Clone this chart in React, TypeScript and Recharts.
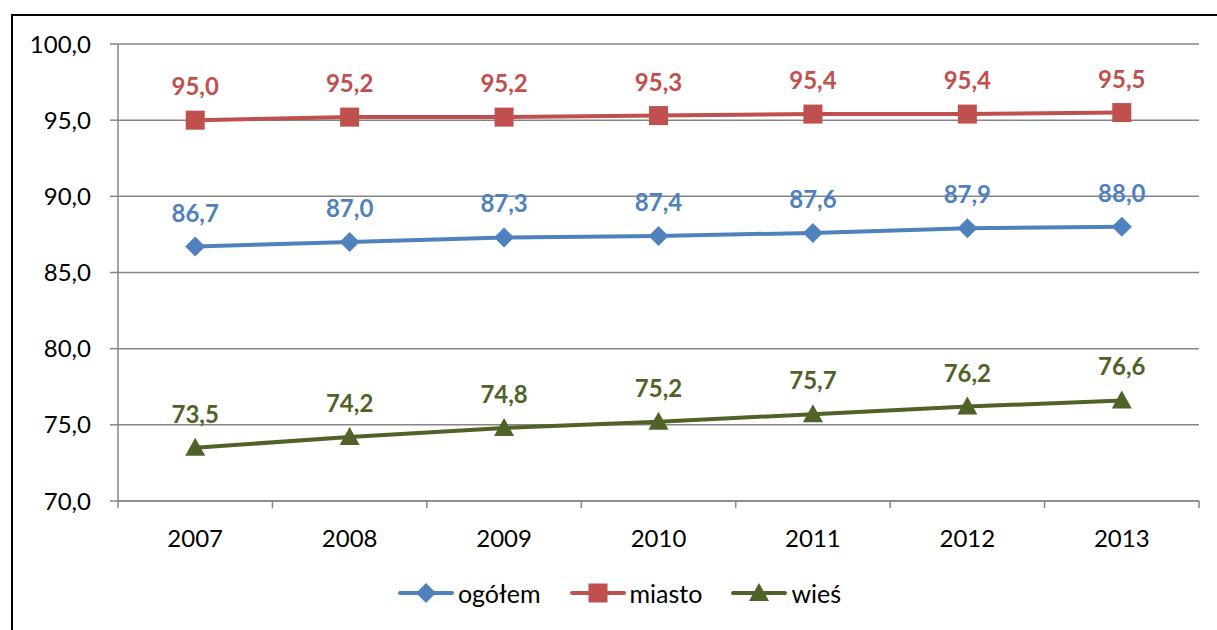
import React from 'react';
import { LineChart, Line, XAxis, YAxis, CartesianGrid, Legend, LabelList } from 'recharts';

const years = ['2007', '2008', '2009', '2010', '2011', '2012', '2013'];
const ogolem = [86.7, 87.0, 87.3, 87.4, 87.6, 87.9, 88.0];
const miasto = [95.0, 95.2, 95.2, 95.3, 95.4, 95.4, 95.5];
const wies = [73.5, 74.2, 74.8, 75.2, 75.7, 76.2, 76.6];
const yTicks = [70, 75, 80, 85, 90, 95, 100];

const FONT = 'Lato, "Open Sans", sans-serif';
const BLUE = '#4F81BD';
const RED = '#C0504D';
const GREEN = '#4F6228';
const AXIS = '#868686';
const HALF_BAND = 1081 / 7 / 2;

const data = years.map((y, i) => ({ year: y, ogolem: ogolem[i], miasto: miasto[i], wies: wies[i] }));

const fmt = (v: any) => Number(v).toFixed(1).replace('.', ',');

const Diamond = ({ cx, cy, fill }: any) => (
  <polygon points={`${cx},${cy - 10} ${cx + 10},${cy} ${cx},${cy + 10} ${cx - 10},${cy}`} fill={fill} />
);
const Square = ({ cx, cy, fill }: any) => <rect x={cx - 9.5} y={cy - 9.5} width={19} height={19} fill={fill} />;
const Triangle = ({ cx, cy, fill }: any) => (
  <polygon points={`${cx},${cy - 10} ${cx + 10},${cy + 8} ${cx - 10},${cy + 8}`} fill={fill} />
);

const XTick = ({ x, y, payload, index }: any) => (
  <g>
    <line x1={x - HALF_BAND} y1={y - 8} x2={x - HALF_BAND} y2={y - 1} stroke={AXIS} strokeWidth={1.5} />
    {index === years.length - 1 && (
      <line x1={x + HALF_BAND} y1={y - 8} x2={x + HALF_BAND} y2={y - 1} stroke={AXIS} strokeWidth={1.5} />
    )}
    <text x={x} y={y + 38} textAnchor="middle" fontSize={24} fontFamily={FONT} fill="#000">
      {payload.value}
    </text>
  </g>
);

const legendItems = [
  { name: 'ogółem', color: BLUE, shape: 'diamond' },
  { name: 'miasto', color: RED, shape: 'square' },
  { name: 'wieś', color: GREEN, shape: 'triangle' },
];

const LegendContent = () => (
  <div
    style={{
      display: 'flex',
      justifyContent: 'center',
      alignItems: 'center',
      height: 63,
      paddingBottom: 6,
      gap: 29,
      paddingLeft: 22,
    }}
  >
    {legendItems.map((it) => (
      <div key={it.name} style={{ display: 'flex', alignItems: 'center' }}>
        <svg width={56} height={22}>
          <line x1={2} y1={11} x2={54} y2={11} stroke={it.color} strokeWidth={4} strokeLinecap="round" />
          {it.shape === 'diamond' && <Diamond cx={28} cy={11} fill={it.color} />}
          {it.shape === 'square' && <Square cx={28} cy={11} fill={it.color} />}
          {it.shape === 'triangle' && <Triangle cx={28} cy={11} fill={it.color} />}
        </svg>
        <span style={{ fontFamily: FONT, fontSize: 25, color: '#000', marginLeft: 4 }}>{it.name}</span>
      </div>
    ))}
  </div>
);

const labelProps = { position: 'top' as const, offset: 25, formatter: fmt, fontSize: 24, fontWeight: 'bold', fontFamily: FONT };

export default function App() {
  return (
    <div style={{ position: 'absolute', left: 0, top: 0, width: 1217, height: 630, background: '#fff' }}>
      <div
        style={{
          position: 'absolute',
          left: 11,
          top: 14,
          width: 1217,
          height: 630,
          borderLeft: '2px solid #000',
          borderTop: '2px solid #000',
        }}
      />
      <div style={{ position: 'absolute', left: 0, top: 0 }}>
        <LineChart width={1217} height={630} data={data} margin={{ top: 44, right: 18, left: 18, bottom: 0 }}>
          <CartesianGrid vertical={false} stroke={AXIS} strokeWidth={1.5} />
          <XAxis
            dataKey="year"
            padding={{ left: HALF_BAND, right: HALF_BAND }}
            stroke={AXIS}
            strokeWidth={1.5}
            tickLine={false}
            tick={<XTick />}
            height={60}
            interval={0}
          />
          <YAxis
            domain={[70, 100]}
            ticks={yTicks}
            width={100}
            stroke={AXIS}
            strokeWidth={1.5}
            tickSize={8}
            tickMargin={19}
            tickFormatter={fmt}
            tick={{ fontSize: 24, fontFamily: FONT, fill: '#000' }}
          />
          <Legend verticalAlign="bottom" height={69} content={<LegendContent />} />
          <Line
            dataKey="ogolem"
            stroke={BLUE}
            strokeWidth={4}
            dot={<Diamond fill={BLUE} />}
            activeDot={false}
            isAnimationActive={false}
          >
            <LabelList dataKey="ogolem" fill={BLUE} {...labelProps} />
          </Line>
          <Line
            dataKey="miasto"
            stroke={RED}
            strokeWidth={4}
            dot={<Square fill={RED} />}
            activeDot={false}
            isAnimationActive={false}
          >
            <LabelList dataKey="miasto" fill={RED} {...labelProps} />
          </Line>
          <Line
            dataKey="wies"
            stroke={GREEN}
            strokeWidth={4}
            dot={<Triangle fill={GREEN} />}
            activeDot={false}
            isAnimationActive={false}
          >
            <LabelList dataKey="wies" fill={GREEN} {...labelProps} />
          </Line>
        </LineChart>
      </div>
    </div>
  );
}
